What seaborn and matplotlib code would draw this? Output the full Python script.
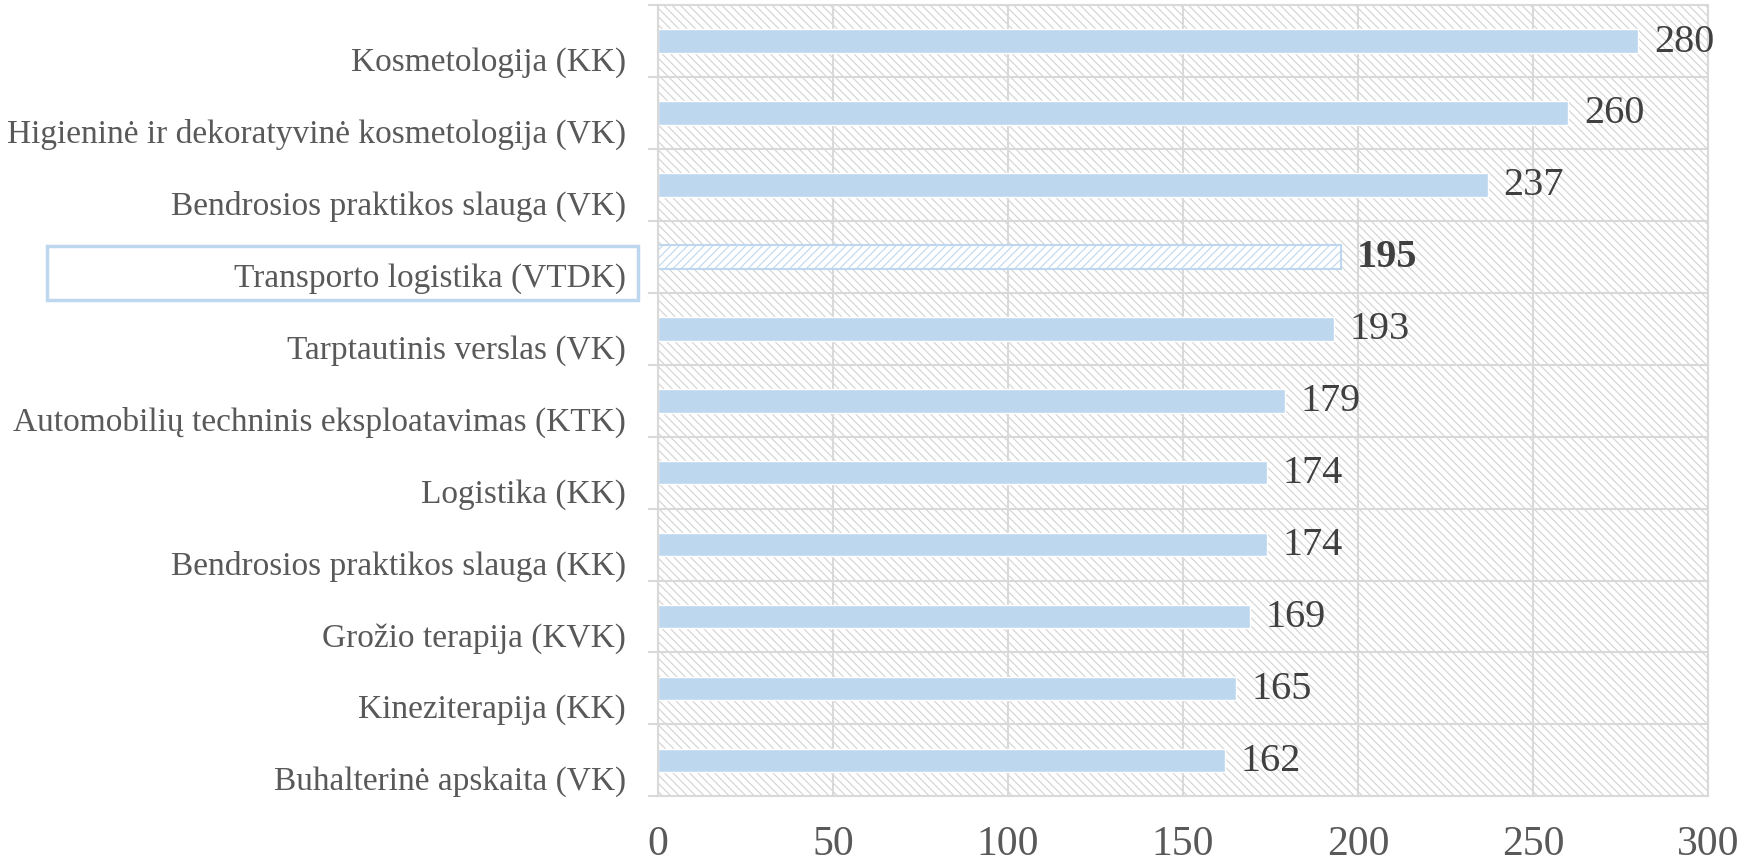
import seaborn as sns
import matplotlib.pyplot as plt
import numpy as np
from matplotlib.patches import Rectangle
from matplotlib.transforms import blended_transform_factory, ScaledTranslation

programs = [
    "Kosmetologija (KK)",
    "Higieninė ir dekoratyvinė kosmetologija (VK)",
    "Bendrosios praktikos slauga (VK)",
    "Transporto logistika (VTDK)",
    "Tarptautinis verslas (VK)",
    "Automobilių techninis eksploatavimas (KTK)",
    "Logistika (KK)",
    "Bendrosios praktikos slauga (KK)",
    "Grožio terapija (KVK)",
    "Kineziterapija (KK)",
    "Buhalterinė apskaita (VK)",
]
scores = [280, 260, 237, 195, 193, 179, 174, 174, 169, 165, 162]
highlight = "Transporto logistika (VTDK)"
x_ticks = [0, 50, 100, 150, 200, 250, 300]

bar_color = "#BDD7EE"
grid_color = "#D9D9D9"
text_color = "#595959"

sns.set_theme(style="white")
plt.rcParams["font.family"] = ["Liberation Serif", "DejaVu Serif"]
plt.rcParams["hatch.linewidth"] = 0.8

fig = plt.figure(figsize=(17.54, 8.62), dpi=100)
ax = fig.add_axes([0.375, 0.075, 0.599, 0.918])

ax = sns.barplot(x=scores, y=programs, color=bar_color, width=0.33,
                 orient="h", saturation=1, ax=ax, zorder=2)

# hatched plot background
ax.add_patch(Rectangle((0, 0), 1, 1, transform=ax.transAxes, facecolor="white",
                       edgecolor="#D2D2D2", hatch="\\\\\\\\", linewidth=0, zorder=0))

hi = programs.index(highlight)
for i, bar in enumerate(ax.patches[:len(programs)]):
    if i == hi:
        bar.set_facecolor("white")
        bar.set_edgecolor(bar_color)
        bar.set_hatch("////")
        bar.set_linewidth(1.5)

for i, v in enumerate(scores):
    ax.text(v + 4.5, i, str(v), va="center", ha="left", fontsize=29,
            color="#404040", fontweight="bold" if i == hi else "normal", zorder=3)

ax.set_xlim(0, 300)
ax.set_ylim(len(programs) - 0.5, -0.5)
ax.set_xticks(x_ticks, labels=[str(t) for t in x_ticks])
ax.set_yticks(np.arange(-0.5, len(programs)), minor=True)
ax.grid(True, axis="x", color=grid_color, linewidth=1.5, zorder=1)
ax.grid(True, axis="y", which="minor", color=grid_color, linewidth=1.5, zorder=1)
ax.set_axisbelow(True)
ax.tick_params(axis="x", length=0, pad=20, labelsize=30, labelcolor=text_color)
ax.tick_params(axis="y", which="major", length=0, pad=23, labelsize=24, labelcolor=text_color)
ax.tick_params(axis="y", which="minor", length=7, width=1.5, color=grid_color, left=True)
ax.set_xlabel("")
ax.set_ylabel("")
for s in ax.spines.values():
    s.set_color(grid_color)
    s.set_linewidth(1.5)

# category labels sit a little below the bar centre
shift = ScaledTranslation(0, -0.17, fig.dpi_scale_trans)
for lab in ax.get_yticklabels():
    lab.set_transform(lab.get_transform() + shift)

# box around the highlighted category label
tr = blended_transform_factory(ax.transAxes, ax.transData)
ax.add_patch(Rectangle((-0.581, hi - 0.145), 0.562, 0.74, transform=tr, fill=False,
                       edgecolor=bar_color, linewidth=2.5, clip_on=False, zorder=3))

plt.savefig("out.png", dpi=100)
